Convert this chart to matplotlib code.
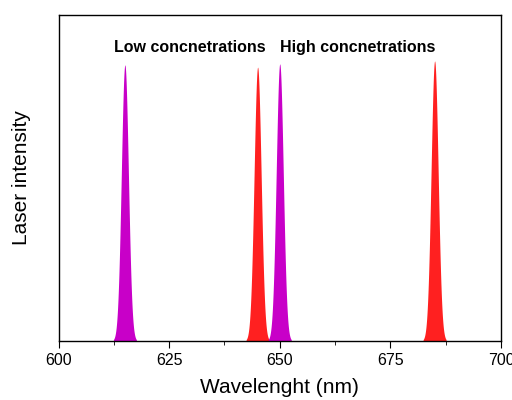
import numpy as np
import matplotlib
matplotlib.use('Agg')
import matplotlib.pyplot as plt

plt.rcParams['font.family'] = ['Liberation Sans', 'DejaVu Sans']

# peak parameters
centers = [615, 645, 650, 685]
heights = [0.847, 0.840, 0.850, 0.859]
widths = [0.8, 0.8, 0.8, 0.8]   # gaussian sigma, nm
peak_colors = ['#C800C8', '#FF2020', '#C800C8', '#FF2020']

xticks = [600, 625, 650, 675, 700]
labels = ['Low concnetrations', 'High concnetrations']
label_x = [629.7, 667.5]
label_y = [0.90, 0.90]

fig = plt.figure(figsize=(5.12, 4.0), dpi=100)
ax = fig.add_axes([58.5/512, 1-341/400, 442.5/512, 326/400])

wl = np.linspace(600, 700, 4001)
for c, h, w, col in zip(centers, heights, widths, peak_colors):
    y = h*np.exp(-0.5*((wl-c)/w)**2)
    m = y > 0.004
    ax.fill_between(wl[m], 0, y[m], color=col, lw=0)

for t, x, y in zip(labels, label_x, label_y):
    ax.text(x, y, t, ha='center', va='center', fontsize=11.5, fontweight='bold')

ax.set_xlim(600, 700)
ax.set_ylim(0, 1)
ax.set_xticks(xticks)
ax.set_xticks(np.arange(612.5, 700, 25), minor=True)
ax.set_yticks([])
ax.tick_params(axis='x', which='major', direction='out', length=5, labelsize=11.5)
ax.tick_params(axis='x', which='minor', direction='out', length=3)
for s in ax.spines.values():
    s.set_linewidth(1.0)
ax.set_xlabel('Wavelenght (nm)', fontsize=15, labelpad=7)
ax.set_ylabel('Laser intensity', fontsize=15, labelpad=20)

fig.savefig('out.png', dpi=100)
